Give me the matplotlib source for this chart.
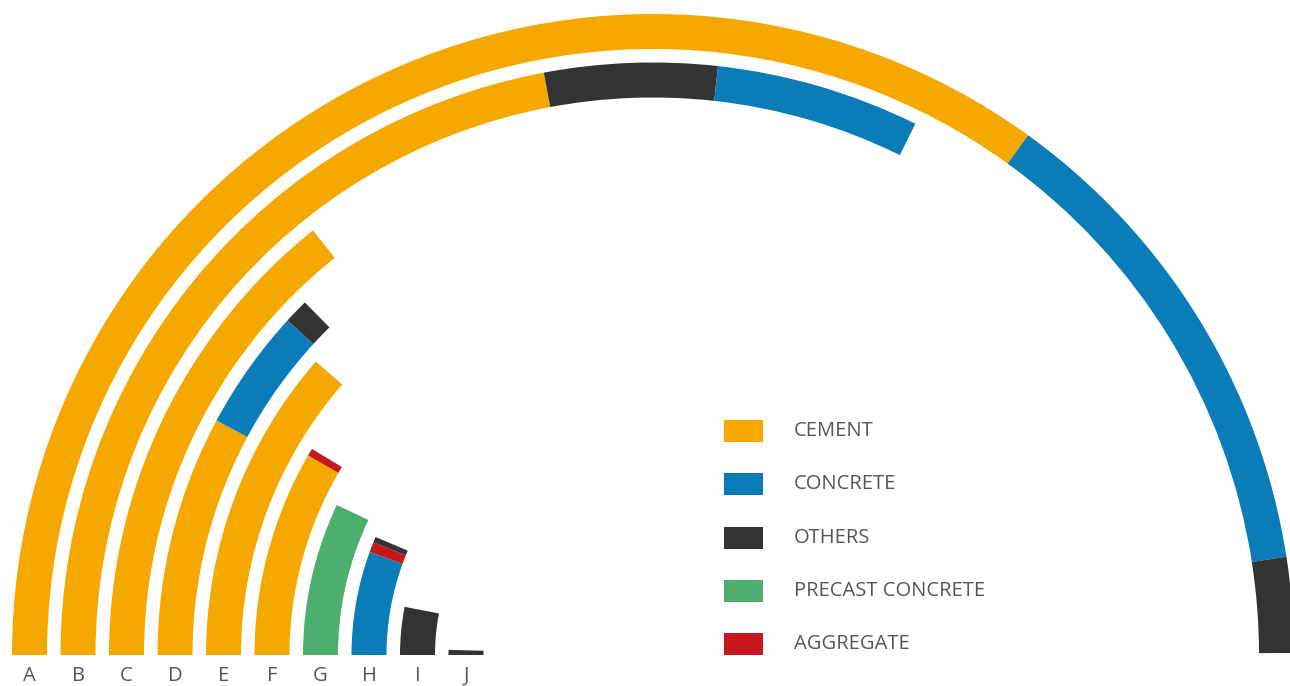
import matplotlib.pyplot as plt
from matplotlib.patches import Wedge, Rectangle

# data: share of each material per company (A total = 100 -> half circle)
companies = ['A', 'B', 'C', 'D', 'E', 'F', 'G', 'H', 'I', 'J']
cement    = [69.9, 44.1, 28.5, 15.7, 22.8, 16.7, 0, 0, 0, 0]
concrete  = [25.2, 11.1, 0, 7.9, 0, 0, 0, 11.1, 0, 0]
others    = [4.8, 9.4, 0, 1.6, 0, 0, 0, 0.6, 6.1, 0.8]
precast   = [0, 0, 0, 0, 0, 0, 14.1, 0, 0, 0]
aggregate = [0, 0, 0, 0, 0, 0.6, 0, 1.1, 0, 0]

legend_names = ['CEMENT', 'CONCRETE', 'OTHERS', 'PRECAST CONCRETE', 'AGGREGATE']
colors = {'CEMENT': '#F5A800', 'CONCRETE': '#0A7DB8', 'OTHERS': '#333333',
          'PRECAST CONCRETE': '#4CAF6E', 'AGGREGATE': '#C8161D'}
series = {'CEMENT': cement, 'CONCRETE': concrete, 'OTHERS': others,
          'PRECAST CONCRETE': precast, 'AGGREGATE': aggregate}

# stacking order inside each ring (B puts OTHERS before CONCRETE)
default_order = ['CEMENT', 'CONCRETE', 'PRECAST CONCRETE', 'AGGREGATE', 'OTHERS']
stack_order = {'B': ['CEMENT', 'OTHERS', 'CONCRETE']}

full_value = 100.0  # value mapped to 180 degrees

fig = plt.figure(figsize=(12.9, 6.86), dpi=100)
ax = fig.add_axes([0, 0, 1, 1])
ax.set_xlim(0, 1290)
ax.set_ylim(0, 686)
ax.axis('off')

cx, cy = 653, 31
r_outer_mid = 623.5
step = 48.5
ring_w = 35

for i, name in enumerate(companies):
    r_mid = r_outer_mid - i * step
    order = stack_order.get(name, default_order)
    start = 0.0
    for cat in order:
        v = series[cat][i]
        if v <= 0:
            continue
        a0 = 180 - start * 180 / full_value
        a1 = 180 - (start + v) * 180 / full_value
        ax.add_patch(Wedge((cx, cy), r_mid + ring_w / 2, a1, a0, width=ring_w,
                           facecolor=colors[cat], edgecolor='none'))
        start += v
    ax.text(cx - r_mid, 10, name, ha='center', va='center', fontsize=14.5,
            color='#555555', family='Open Sans')

# legend
for j, cat in enumerate(legend_names):
    yc = 686 - (431 + j * 53.3)
    ax.add_patch(Rectangle((724, yc - 11), 39, 22, facecolor=colors[cat], edgecolor='none'))
    ax.text(794, yc, cat, ha='left', va='center', fontsize=14.5, color='#555555',
            family='Open Sans')

fig.savefig('out.png', dpi=100)
